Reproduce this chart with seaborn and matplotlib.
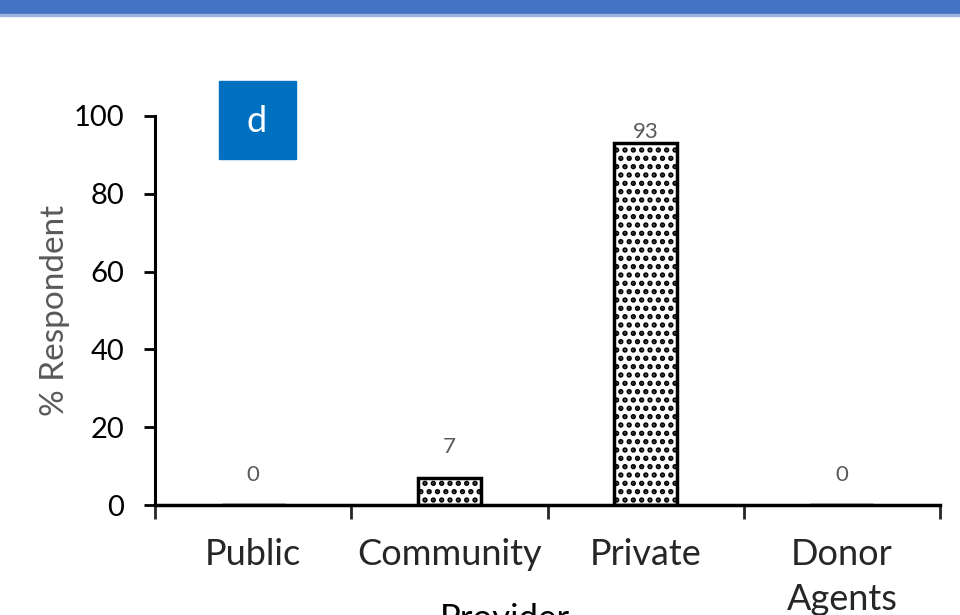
import matplotlib
matplotlib.use('Agg')
import matplotlib.pyplot as plt
import seaborn as sns
from matplotlib.patches import Rectangle

# Data
providers = ['Public', 'Community', 'Private', 'Donor\nAgents']
respondents = [0, 7, 93, 0]
y_ticks = [0, 20, 40, 60, 80, 100]

sns.set_style('white')
plt.rcParams['font.family'] = ['Lato', 'DejaVu Sans']
plt.rcParams['hatch.linewidth'] = 2.6
plt.rcParams['hatch.color'] = 'black'

fig = plt.figure(figsize=(9.6, 6.15), dpi=100)
ax = fig.add_axes([155 / 960, 1 - 505 / 615, 785 / 960, 389 / 615])

sns.barplot(x=providers, y=respondents, color='white', edgecolor='black',
            linewidth=2.5, width=0.32, saturation=1, ax=ax)
for bar in ax.patches:
  bar.set_hatch('..')

# value labels (Excel keeps the top one inside the plot area)
for i, v in enumerate(respondents):
  ax.text(i, min(v + 7.8, 95.9), str(v), ha='center', va='center',
          fontsize=16, color='#595959')

ax.set_xlim(-0.5, len(providers) - 0.5)
ax.set_ylim(0, 100)
ax.set_yticks(y_ticks)
ax.tick_params(axis='y', labelsize=21, length=8, width=2, direction='out',
               left=True, pad=14, colors='black')
ax.tick_params(axis='x', which='major', length=0, labelsize=26, pad=24)
ax.set_xticks([i - 0.5 for i in range(len(providers) + 1)], minor=True)
ax.tick_params(axis='x', which='minor', length=10, width=2, direction='out',
               bottom=True)
for lab in ax.get_xticklabels():
  lab.set_linespacing(1.45)

for side in ['top', 'right']:
  ax.spines[side].set_visible(False)
ax.spines['left'].set_linewidth(2.2)
ax.spines['bottom'].set_linewidth(2.5)
ax.spines['left'].set_color('black')
ax.spines['bottom'].set_color('black')

ax.set_ylabel('% Respondent', fontsize=24, color='#595959', labelpad=3)
ax.set_xlabel('')
fig.text(505 / 960, 1 - 603 / 615, 'Provider', fontsize=25, ha='center',
         va='top', color='black')

# top band
fig.patches.append(Rectangle((0, 1 - 14 / 615), 1, 14 / 615,
                             transform=fig.transFigure, color='#4472C4'))
fig.patches.append(Rectangle((0, 1 - 16 / 615), 1, 2 / 615,
                             transform=fig.transFigure, color='#9DB3E0'))

# panel letter box
fig.patches.append(Rectangle((219 / 960, 1 - 159 / 615), 77 / 960, 78 / 615,
                             transform=fig.transFigure, color='#0070C0'))
fig.text(257 / 960, 1 - 121 / 615, 'd', fontsize=26, color='white',
         ha='center', va='center')

fig.savefig('out.png', dpi=100)
